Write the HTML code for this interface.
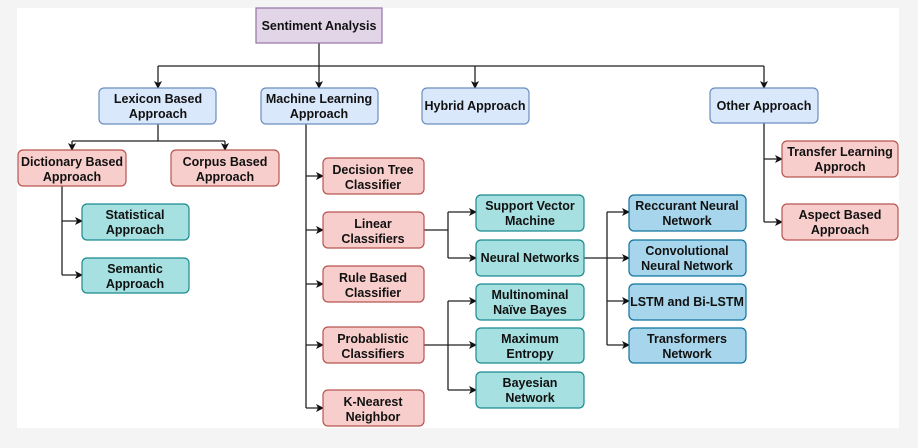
<!DOCTYPE html>
<html><head><meta charset="utf-8"><style>
html,body{margin:0;padding:0;background:#f4f4f4;}
svg{display:block}
text{font-family:"Liberation Sans",Arial,sans-serif;font-weight:bold;font-size:12.5px;fill:#111;text-anchor:middle}
</style></head><body>
<svg width="918" height="448" viewBox="0 0 918 448" xmlns="http://www.w3.org/2000/svg">
<defs><marker id="a" markerWidth="8" markerHeight="8" refX="7" refY="4" orient="auto" markerUnits="userSpaceOnUse"><path d="M0,0 L8,4 L0,8 L2,4 Z" fill="#111"/></marker></defs>
<rect x="17" y="8" width="882" height="420" fill="#fff"/>
<g stroke="#222" stroke-width="1.3" fill="none">
<path d="M319 43 V66 M158 66 H764"/>
<path d="M158 66 V88" marker-end="url(#a)"/><path d="M319 66 V88" marker-end="url(#a)"/>
<path d="M475 66 V88" marker-end="url(#a)"/><path d="M764 66 V88" marker-end="url(#a)"/>
<path d="M158 124 V141 M72 141 H225"/>
<path d="M72 141 V150" marker-end="url(#a)"/><path d="M225 141 V150" marker-end="url(#a)"/>
<path d="M62 186 V275"/>
<path d="M62 221 H82" marker-end="url(#a)"/><path d="M62 275 H82" marker-end="url(#a)"/>
<path d="M306 124 V408"/>
<path d="M306 176 H323" marker-end="url(#a)"/><path d="M306 230 H323" marker-end="url(#a)"/>
<path d="M306 284 H323" marker-end="url(#a)"/><path d="M306 345 H323" marker-end="url(#a)"/>
<path d="M306 408 H323" marker-end="url(#a)"/>
<path d="M424 230 H448 M448 212 V258"/>
<path d="M448 212 H476" marker-end="url(#a)"/><path d="M448 258 H476" marker-end="url(#a)"/>
<path d="M424 345 H448 M448 301 V390"/>
<path d="M448 301 H476" marker-end="url(#a)"/><path d="M448 345 H476" marker-end="url(#a)"/><path d="M448 390 H476" marker-end="url(#a)"/>
<path d="M584 258 H607 M607 212 V345"/>
<path d="M607 212 H629" marker-end="url(#a)"/><path d="M607 258 H629" marker-end="url(#a)"/>
<path d="M607 301 H629" marker-end="url(#a)"/><path d="M607 345 H629" marker-end="url(#a)"/>
<path d="M764 123 V222"/>
<path d="M764 159 H782" marker-end="url(#a)"/><path d="M764 222 H782" marker-end="url(#a)"/>
</g>
<g stroke-width="1.2">
<rect x="256" y="8" width="126" height="35" fill="#e1d5e7" stroke="#9673a6"/>
<g fill="#dae8fc" stroke="#6c8ebf">
<rect x="99" y="88" width="117" height="36" rx="5"/><rect x="261" y="88" width="117" height="36" rx="5"/>
<rect x="422" y="88" width="107" height="36" rx="5"/><rect x="710" y="88" width="108" height="35" rx="5"/>
</g>
<g fill="#f8cecc" stroke="#b85450">
<rect x="18" y="150" width="108" height="36" rx="5"/><rect x="171" y="150" width="108" height="36" rx="5"/>
<rect x="323" y="158" width="101" height="36" rx="5"/><rect x="323" y="212" width="101" height="36" rx="5"/>
<rect x="323" y="266" width="101" height="36" rx="5"/><rect x="323" y="327" width="101" height="36" rx="5"/>
<rect x="323" y="390" width="101" height="36" rx="5"/>
<rect x="782" y="141" width="116" height="36" rx="5"/><rect x="782" y="204" width="116" height="36" rx="5"/>
</g>
<g fill="#a6e0e0" stroke="#1b8a8f">
<rect x="82" y="204" width="107" height="36" rx="5"/><rect x="82" y="258" width="107" height="35" rx="5"/>
<rect x="476" y="195" width="108" height="36" rx="5"/><rect x="476" y="240" width="108" height="36" rx="5"/>
<rect x="476" y="284" width="108" height="36" rx="5"/><rect x="476" y="328" width="108" height="35" rx="5"/>
<rect x="476" y="372" width="108" height="36" rx="5"/>
</g>
<g fill="#a7d6ec" stroke="#10739e">
<rect x="629" y="195" width="117" height="36" rx="5"/><rect x="629" y="240" width="117" height="36" rx="5"/>
<rect x="629" y="284" width="117" height="36" rx="5"/><rect x="629" y="328" width="117" height="35" rx="5"/>
</g>
</g>
<text x="319" y="30">Sentiment Analysis</text>
<text x="158" y="103">Lexicon Based</text><text x="158" y="118">Approach</text>
<text x="319" y="103">Machine Learning</text><text x="319" y="118">Approach</text>
<text x="475" y="110">Hybrid Approach</text>
<text x="764" y="110">Other Approach</text>
<text x="72" y="166">Dictionary Based</text><text x="72" y="181">Approach</text>
<text x="225" y="166">Corpus Based</text><text x="225" y="181">Approach</text>
<text x="135" y="219">Statistical</text><text x="135" y="234">Approach</text>
<text x="135" y="273">Semantic</text><text x="135" y="288">Approach</text>
<text x="373" y="174">Decision Tree</text><text x="373" y="189">Classifier</text>
<text x="373" y="228">Linear</text><text x="373" y="243">Classifiers</text>
<text x="373" y="282">Rule Based</text><text x="373" y="297">Classifier</text>
<text x="373" y="343">Probablistic</text><text x="373" y="358">Classifiers</text>
<text x="373" y="406">K-Nearest</text><text x="373" y="421">Neighbor</text>
<text x="530" y="210">Support Vector</text><text x="530" y="225">Machine</text>
<text x="530" y="262">Neural Networks</text>
<text x="530" y="299">Multinominal</text><text x="530" y="314">Naïve Bayes</text>
<text x="530" y="343">Maximum</text><text x="530" y="358">Entropy</text>
<text x="530" y="387">Bayesian</text><text x="530" y="402">Network</text>
<text x="687" y="210">Reccurant Neural</text><text x="687" y="225">Network</text>
<text x="687" y="255">Convolutional</text><text x="687" y="270">Neural Network</text>
<text x="687" y="306">LSTM and Bi-LSTM</text>
<text x="687" y="343">Transformers</text><text x="687" y="358">Network</text>
<text x="840" y="156">Transfer Learning</text><text x="840" y="171">Approch</text>
<text x="840" y="219">Aspect Based</text><text x="840" y="234">Approach</text>
</svg>
</body></html>
